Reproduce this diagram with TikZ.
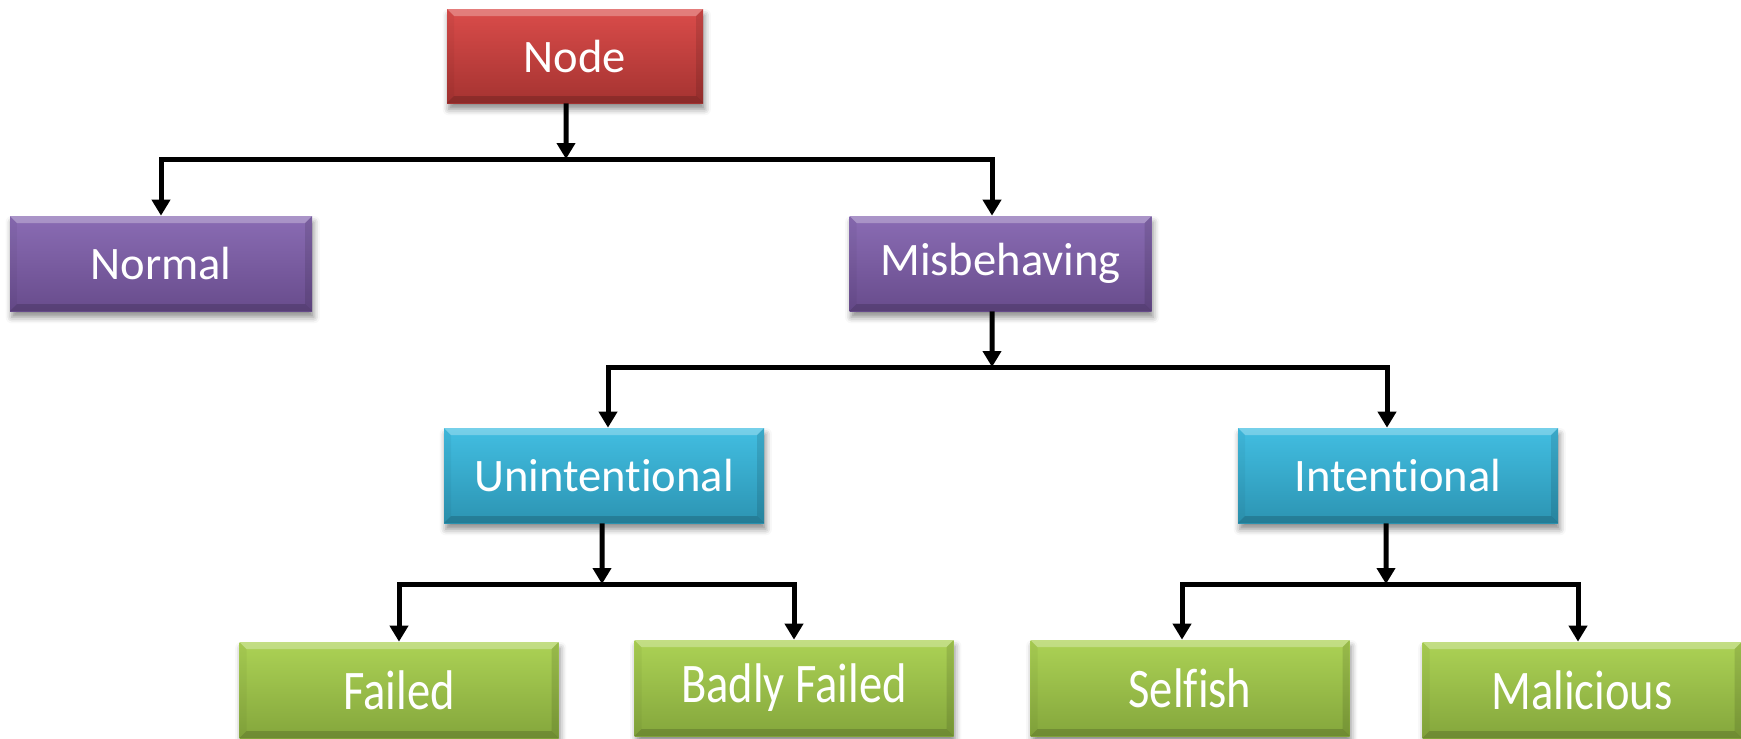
\documentclass[tikz,border=0pt]{standalone}
\usepackage{fontspec}
\usepackage{graphicx}
\setmainfont{Carlito}[RawFeature={-liga}]
\usetikzlibrary{arrows.meta,shadows.blur}

\definecolor{redT}{HTML}{DA4C4A}
\definecolor{redB}{HTML}{A53331}
\definecolor{purT}{HTML}{8A6CB4}
\definecolor{purB}{HTML}{684C8C}
\definecolor{bluT}{HTML}{42BEE2}
\definecolor{bluB}{HTML}{2C94B2}
\definecolor{grnT}{HTML}{ACD255}
\definecolor{grnB}{HTML}{84A63C}

\begin{document}
\begin{tikzpicture}[x=0.02cm,y=-0.02cm,
  % beveled box with a soft drop shadow
  box/.style n args={4}{
    rectangle, inner sep=0pt, text=white,
    minimum width=#1*0.02cm, minimum height=#2*0.02cm,
    top color=#3, bottom color=#4,
    font=\fontsize{26.5}{32}\selectfont,
    blur shadow={shadow xshift=1pt, shadow yshift=-3.5pt,
                 shadow blur radius=3.5pt, shadow opacity=45},
    path picture={
      \fill[white,opacity=0.28]
        (path picture bounding box.north west) --
        (path picture bounding box.north east) --
        ([shift={(-0.14cm,-0.14cm)}]path picture bounding box.north east) --
        ([shift={(0.14cm,-0.14cm)}]path picture bounding box.north west) -- cycle;
      \fill[black,opacity=0.16]
        (path picture bounding box.south west) --
        (path picture bounding box.south east) --
        ([shift={(-0.14cm,0.14cm)}]path picture bounding box.south east) --
        ([shift={(0.14cm,0.14cm)}]path picture bounding box.south west) -- cycle;
      \fill[black,opacity=0.04]
        (path picture bounding box.north west) --
        ([shift={(0.14cm,-0.14cm)}]path picture bounding box.north west) --
        ([shift={(0.14cm,0.14cm)}]path picture bounding box.south west) --
        (path picture bounding box.south west) -- cycle;
      \fill[black,opacity=0.11]
        (path picture bounding box.north east) --
        ([shift={(-0.14cm,-0.14cm)}]path picture bounding box.north east) --
        ([shift={(-0.14cm,0.14cm)}]path picture bounding box.south east) --
        (path picture bounding box.south east) -- cycle;
    }},
  rootbox/.style={box={256}{94}{redT}{redB}},
  purbox/.style={box={302}{95}{purT}{purB}},
  blubox/.style={box={320}{95}{bluT}{bluB}},
  grnbox/.style={box={319}{96}{grnT}{grnB}},
  link/.style={line width=0.1cm, line join=miter,
               -{Triangle[width=0.36cm,length=0.32cm]}}
]
\useasboundingbox (0,0) rectangle (1741,738);

% boxes
\node[rootbox] (root) at (575,56) {Node};
\node[purbox] (normal) at (161,263.5) {Normal};
\node[purbox] (mis) at (1000.5,263.5) {Misbehaving};
\node[blubox] (unint) at (604,475.5) {Unintentional};
\node[blubox] (intent) at (1398,475.5) {Intentional};
\node[grnbox] (failed) at (399,690) {\scalebox{1}[1.2]{Failed}};
\node[grnbox] (badly) at (794,688) {\scalebox{1}[1.2]{Badly Failed}};
\node[grnbox] (selfish) at (1190,688) {\scalebox{1}[1.2]{Selfish}};
\node[grnbox] (malic) at (1582,690) {\scalebox{1}[1.2]{Malicious}};

% bus junctions
\coordinate (b1) at (566,159);
\coordinate (b2) at (992,367);
\coordinate (b3) at (602,584);
\coordinate (b4) at (1386,584);

% connectors
\draw[link] ([xshift=-0.18cm]root.south) -- (b1);
\draw[link] (b1) -| (normal.north);
\draw[link] (b1) -| ([xshift=-0.17cm]mis.north);

\draw[link] ([xshift=-0.17cm]mis.south) -- (b2);
\draw[link] (b2) -| ([xshift=0.08cm]unint.north);
\draw[link] (b2) -| ([xshift=-0.22cm]intent.north);

\draw[link] ([xshift=-0.04cm]unint.south) -- (b3);
\draw[link] (b3) -| (failed.north);
\draw[link] (b3) -| (badly.north);

\draw[link] ([xshift=-0.24cm]intent.south) -- (b4);
\draw[link] (b4) -| ([xshift=-0.16cm]selfish.north);
\draw[link] (b4) -| ([xshift=-0.08cm]malic.north);
\end{tikzpicture}
\end{document}
